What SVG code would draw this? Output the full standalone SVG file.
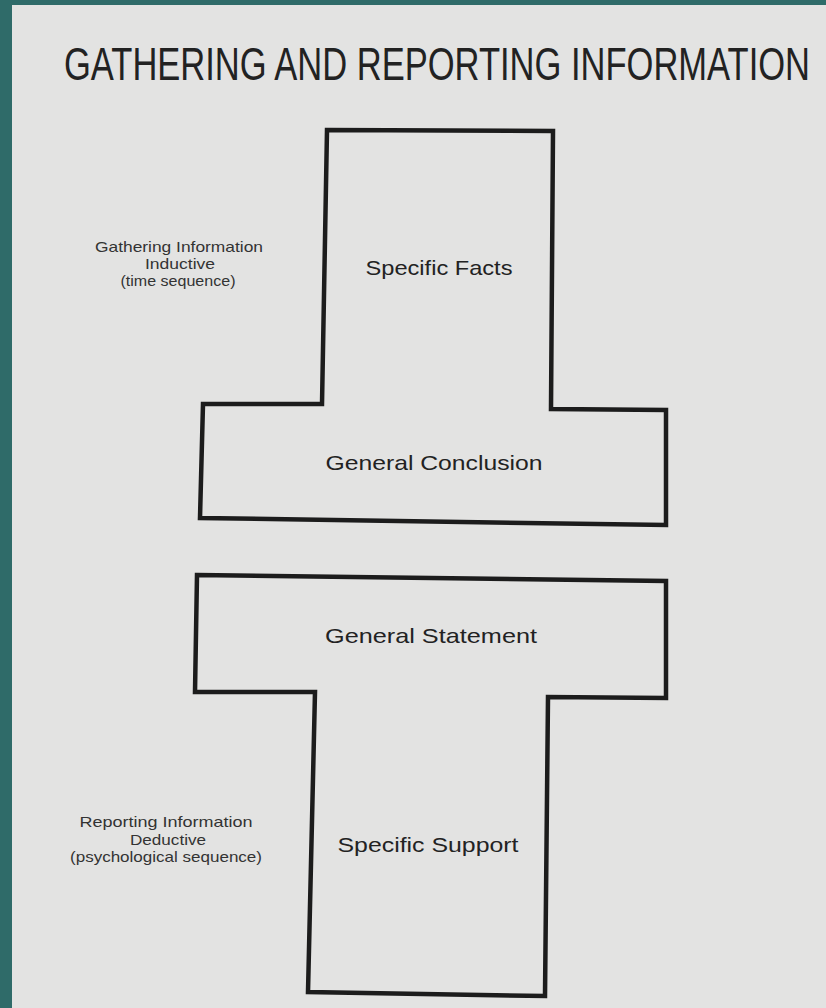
<svg xmlns="http://www.w3.org/2000/svg" width="826" height="1008" viewBox="0 0 826 1008">
<style>
.shape{fill:none;stroke:#1c1c1c;stroke-width:4.5;stroke-linejoin:miter}
.lbl{font-family:"Liberation Sans",Arial,sans-serif;fill:#222;text-anchor:middle}
.big{font-size:21px}
.small{font-size:15px;fill:#333}
</style>
<rect x="0" y="0" width="826" height="1008" fill="#2f6b69"/>
<rect x="12" y="5" width="814" height="1003" fill="#e3e3e2"/>
<text class="lbl" transform="translate(437,80) scale(1,1.4)" x="0" y="0" font-size="33" textLength="746" lengthAdjust="spacingAndGlyphs" fill="#1e1e1e">GATHERING AND REPORTING INFORMATION</text>
<g id="gathering">
<path class="shape" d="M327,130 L553,131 L551,409 L666,410 L666,525 L200,518 L203,404 L322,404 Z"/>
<text class="lbl big" x="439" y="275" textLength="147" lengthAdjust="spacingAndGlyphs">Specific Facts</text>
<text class="lbl big" x="434" y="470" textLength="217" lengthAdjust="spacingAndGlyphs">General Conclusion</text>
</g>
<g id="reporting">
<path class="shape" d="M197,575 L666,581 L666,698 L548,697 L545,996 L308,992 L315,692 L195,692 Z"/>
<text class="lbl big" x="431" y="643" textLength="212" lengthAdjust="spacingAndGlyphs">General Statement</text>
<text class="lbl big" x="428" y="852" textLength="181" lengthAdjust="spacingAndGlyphs">Specific Support</text>
</g>
<g id="gathering-label">
<text class="lbl small" x="179" y="252" textLength="168" lengthAdjust="spacingAndGlyphs">Gathering Information</text>
<text class="lbl small" x="180" y="269" textLength="70" lengthAdjust="spacingAndGlyphs">Inductive</text>
<text class="lbl small" x="178" y="286" textLength="115" lengthAdjust="spacingAndGlyphs">(time sequence)</text>
</g>
<g id="reporting-label">
<text class="lbl small" x="166" y="827" textLength="173" lengthAdjust="spacingAndGlyphs">Reporting Information</text>
<text class="lbl small" x="168" y="845" textLength="76" lengthAdjust="spacingAndGlyphs">Deductive</text>
<text class="lbl small" x="166" y="862" textLength="192" lengthAdjust="spacingAndGlyphs">(psychological sequence)</text>
</g>
<g id="connectors"/>
</svg>
